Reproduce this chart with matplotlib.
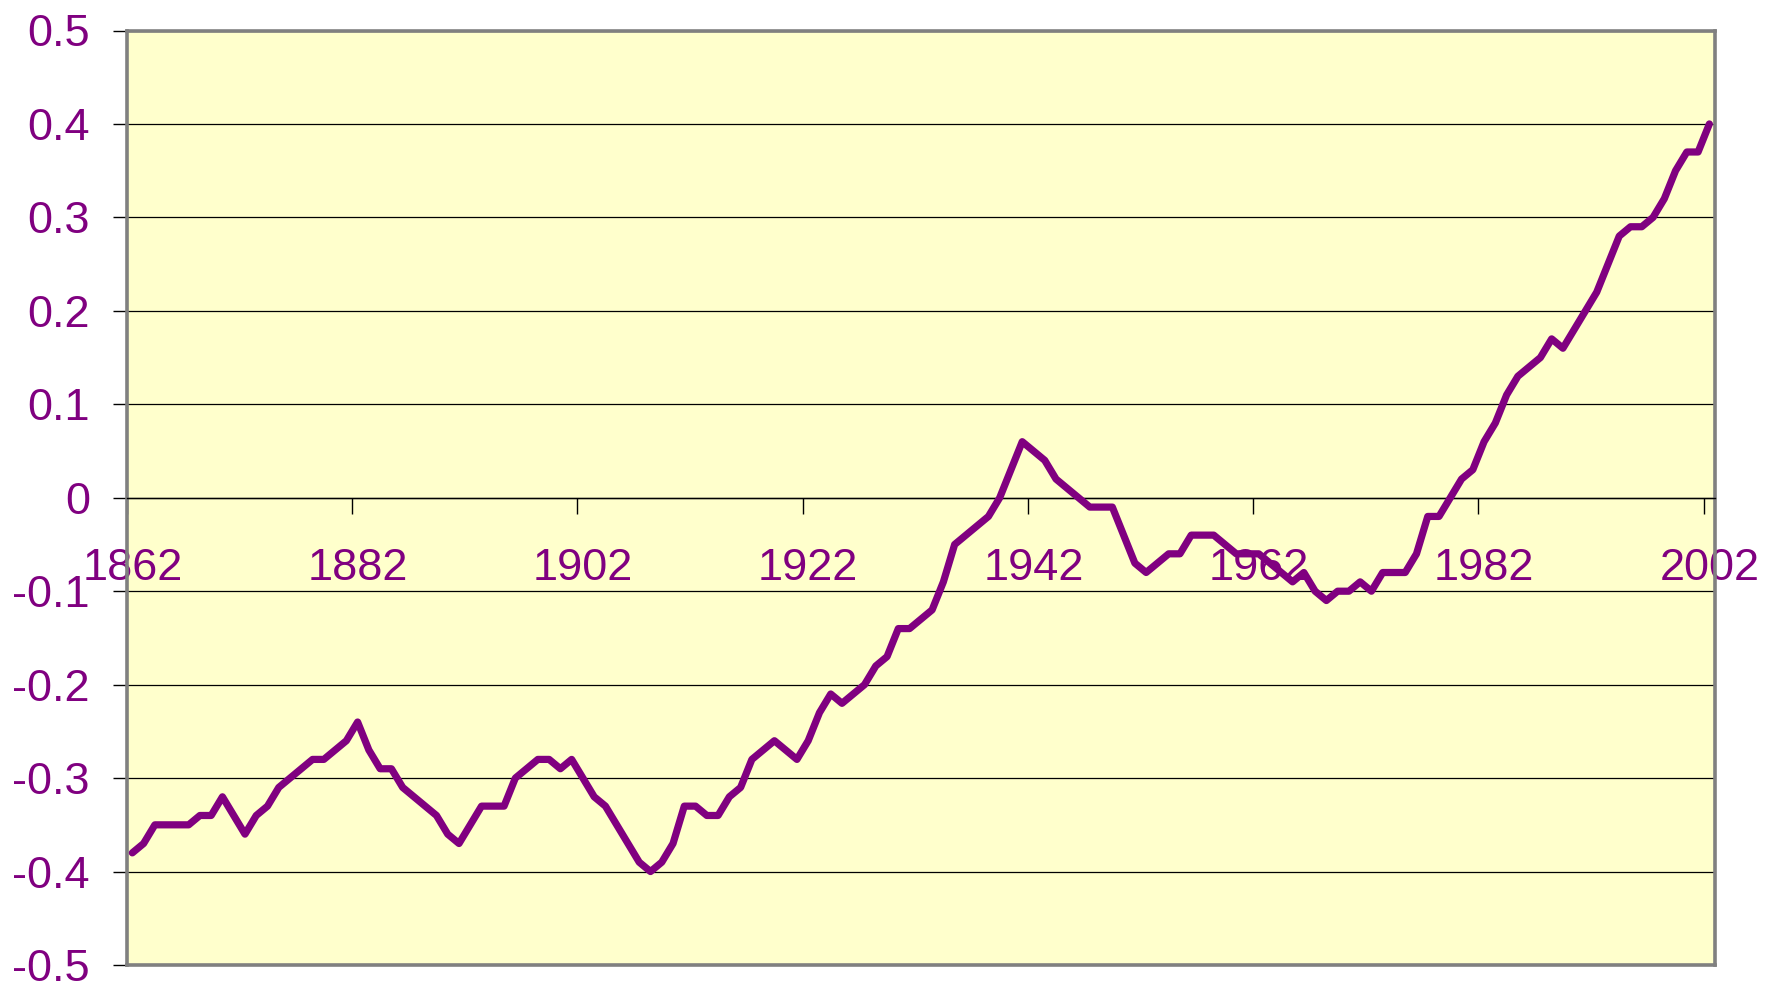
import matplotlib
matplotlib.use("Agg")
import matplotlib.pyplot as plt
from matplotlib.ticker import FixedLocator

years = list(range(1862, 2003))
anomaly = [
    -0.38, -0.37, -0.35, -0.35, -0.35, -0.35, -0.34, -0.34, -0.32, -0.34,   # 1862-1871
    -0.36, -0.34, -0.33, -0.31, -0.30, -0.29, -0.28, -0.28, -0.27, -0.26,   # 1872-1881
    -0.24, -0.27, -0.29, -0.29, -0.31, -0.32, -0.33, -0.34, -0.36, -0.37,   # 1882-1891
    -0.35, -0.33, -0.33, -0.33, -0.30, -0.29, -0.28, -0.28, -0.29, -0.28,   # 1892-1901
    -0.30, -0.32, -0.33, -0.35, -0.37, -0.39, -0.40, -0.39, -0.37, -0.33,   # 1902-1911
    -0.33, -0.34, -0.34, -0.32, -0.31, -0.28, -0.27, -0.26, -0.27, -0.28,   # 1912-1921
    -0.26, -0.23, -0.21, -0.22, -0.21, -0.20, -0.18, -0.17, -0.14, -0.14,   # 1922-1931
    -0.13, -0.12, -0.09, -0.05, -0.04, -0.03, -0.02, 0.00, 0.03, 0.06,      # 1932-1941
    0.05, 0.04, 0.02, 0.01, 0.00, -0.01, -0.01, -0.01, -0.04, -0.07,        # 1942-1951
    -0.08, -0.07, -0.06, -0.06, -0.04, -0.04, -0.04, -0.05, -0.06, -0.06,   # 1952-1961
    -0.06, -0.07, -0.08, -0.09, -0.08, -0.10, -0.11, -0.10, -0.10, -0.09,   # 1962-1971
    -0.10, -0.08, -0.08, -0.08, -0.06, -0.02, -0.02, 0.00, 0.02, 0.03,      # 1972-1981
    0.06, 0.08, 0.11, 0.13, 0.14, 0.15, 0.17, 0.16, 0.18, 0.20,             # 1982-1991
    0.22, 0.25, 0.28, 0.29, 0.29, 0.30, 0.32, 0.35, 0.37, 0.37,             # 1992-2001
    0.40,                                                                   # 2002
]
x_tick_years = [1862, 1882, 1902, 1922, 1942, 1962, 1982, 2002]
y_ticks = [-0.5, -0.4, -0.3, -0.2, -0.1, 0.0, 0.1, 0.2, 0.3, 0.4, 0.5]
y_tick_labels = ['-0.5', '-0.4', '-0.3', '-0.2', '-0.1', '0', '0.1', '0.2', '0.3', '0.4', '0.5']

purple = '#800080'
gray = '#808080'

plt.rcParams['font.family'] = ['Liberation Sans', 'DejaVu Sans']

fig = plt.figure(figsize=(17.73, 9.85), dpi=100)
ax = fig.add_axes([126.7 / 1773, 1 - 965 / 985, (1715 - 126.7) / 1773, (965 - 30.5) / 985])
ax.set_facecolor('#FFFFCC')

ax.plot(years, anomaly, color=purple, lw=5.2, solid_joinstyle='round',
        solid_capstyle='round', zorder=3)

ax.set_xlim(years[0] - 0.5, years[-1] + 0.5)
ax.set_ylim(-0.5, 0.5)

# y axis
ax.set_yticks(y_ticks)
ax.set_yticklabels(y_tick_labels)
ax.tick_params(axis='y', which='major', direction='out', length=10, width=1,
               color='black', pad=16.5, labelsize=32.5, labelcolor=purple)
ax.yaxis.grid(True, color='black', lw=0.9)
ax.set_axisbelow(True)

# x axis crossing at zero: labels at category centres, ticks at category boundaries
ax.spines['bottom'].set_position(('data', 0))
ax.spines['bottom'].set_color('black')
ax.spines['bottom'].set_linewidth(1.0)
ax.set_xticks(x_tick_years)
ax.set_xticklabels([str(y) for y in x_tick_years])
ax.xaxis.set_minor_locator(FixedLocator([y - 0.5 for y in x_tick_years]))
ax.tick_params(axis='x', which='major', length=0, pad=36.5, labelsize=32.5,
               labelcolor=purple)
ax.tick_params(axis='x', which='minor', direction='out', length=11.5, width=1,
               color='black')

for side in ['left', 'top', 'right']:
    ax.spines[side].set_color(gray)
    ax.spines[side].set_linewidth(2.6)
ax.plot([0, 1], [0, 0], transform=ax.transAxes, color=gray, lw=2.6,
        clip_on=False, zorder=4, solid_capstyle='projecting')

fig.savefig('out.png', dpi=100, facecolor='white')
